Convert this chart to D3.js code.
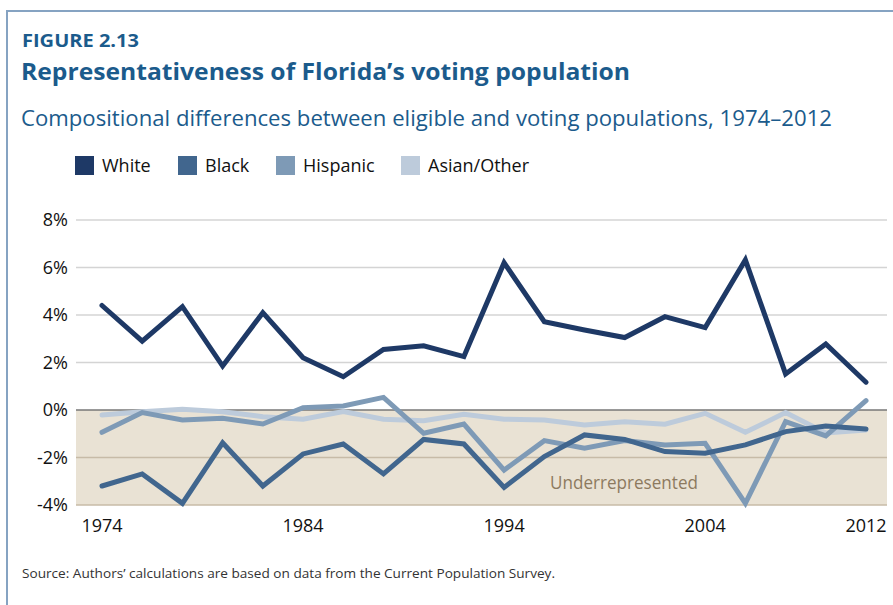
<!DOCTYPE html>
<html>
<head>
<meta charset="utf-8">
<title>Representativeness of Florida's voting population</title>
<script src="https://d3js.org/d3.v7.min.js"></script>
<style>
  body { margin: 0; background: #fff; }
  svg { display: block; font-family: "Open Sans", "Noto Sans", sans-serif; }
</style>
</head>
<body>
<svg width="893" height="605"></svg>
<script>
var years = d3.range(1974, 2013, 2);
var white    = [4.4, 2.9, 4.35, 1.85, 4.1, 2.2, 1.4, 2.55, 2.7, 2.25, 6.2, 3.72, 3.37, 3.05, 3.93, 3.47, 6.32, 1.52, 2.78, 1.17];
var black    = [-3.2, -2.69, -3.93, -1.38, -3.2, -1.85, -1.43, -2.69, -1.24, -1.43, -3.26, -1.96, -1.05, -1.24, -1.75, -1.82, -1.47, -0.91, -0.67, -0.8];
var hispanic = [-0.94, -0.11, -0.42, -0.35, -0.59, 0.1, 0.17, 0.53, -0.98, -0.59, -2.53, -1.29, -1.61, -1.29, -1.47, -1.4, -3.93, -0.49, -1.09, 0.39];
var asian    = [-0.21, -0.07, 0.03, -0.07, -0.28, -0.39, -0.07, -0.39, -0.45, -0.18, -0.39, -0.42, -0.63, -0.49, -0.6, -0.14, -0.94, -0.11, -0.97, -0.84];
var yTicks = [-4, -2, 0, 2, 4, 6, 8];
var xTicks = [1974, 1984, 1994, 2004, 2012];

var series = [
  {name: "White", values: white, color: "#1e3966"},
  {name: "Black", values: black, color: "#41668e"},
  {name: "Hispanic", values: hispanic, color: "#7e9ab6"},
  {name: "Asian/Other", values: asian, color: "#bdcbdb"}
];

var svg = d3.select("svg");
var blue = "#1b5b8c";

// frame
svg.append("path")
   .attr("d", "M7,605V11H893")
   .attr("fill", "none")
   .attr("stroke", "#86a3c2")
   .attr("stroke-width", 2);

svg.append("text").text("FIGURE 2.13")
   .attr("x", 22).attr("y", 47)
   .attr("fill", blue).attr("font-weight", 700).style("font-size", "18px")
   .attr("textLength", 117).attr("lengthAdjust", "spacingAndGlyphs");
svg.append("text").text("Representativeness of Florida\u2019s voting population")
   .attr("x", 21).attr("y", 80)
   .attr("fill", blue).attr("font-weight", 700).style("font-size", "24px")
   .attr("textLength", 609).attr("lengthAdjust", "spacingAndGlyphs");
svg.append("text").text("Compositional differences between eligible and voting populations, 1974\u20132012")
   .attr("x", 21).attr("y", 126)
   .attr("fill", blue).style("font-size", "21px")
   .attr("textLength", 811).attr("lengthAdjust", "spacingAndGlyphs");

// legend
var legX = [75, 178, 276, 401];
var leg = svg.append("g").selectAll("g")
   .data(series).enter().append("g")
   .attr("transform", (d, i) => `translate(${legX[i]},156)`);
leg.append("rect").attr("width", 19).attr("height", 19).attr("fill", d => d.color);
leg.append("text").text(d => d.name)
   .attr("x", 27).attr("y", 16)
   .attr("fill", "#111").style("font-size", "18px");

// scales
var left = 76, right = 887;
var x = d3.scaleLinear().domain([1974, 2012]).range([102, 866]);
var y = d3.scaleLinear().domain([-4, 8]).range([505, 220]);

var g = svg.append("g");

// underrepresented band
g.append("rect")
 .attr("x", left).attr("width", right - left)
 .attr("y", y(0)).attr("height", y(-4) - y(0))
 .attr("fill", "#e9e2d4");

// gridlines
g.append("g").selectAll("line")
 .data(yTicks).enter().append("line")
 .attr("x1", left).attr("x2", right)
 .attr("y1", d => y(d)).attr("y2", d => y(d))
 .attr("stroke", d => d === 0 ? "#777" : (d < 0 ? "#c7bba7" : "#d4d4d4"))
 .attr("stroke-width", 1.5);

// y labels
g.append("g").selectAll("text")
 .data(yTicks).enter().append("text")
 .text(d => d + "%")
 .attr("x", 68).attr("y", d => y(d)).attr("dy", "0.36em")
 .attr("text-anchor", "end")
 .attr("fill", "#111").style("font-size", "18px");

// x labels
g.append("g").selectAll("text")
 .data(xTicks).enter().append("text")
 .text(d => d)
 .attr("x", d => x(d)).attr("y", 532)
 .attr("text-anchor", "middle")
 .attr("fill", "#111").style("font-size", "18px");

g.append("text").text("Underrepresented")
 .attr("x", 550).attr("y", 489)
 .attr("fill", "#8d7a5f").style("font-size", "19px")
 .attr("textLength", 148).attr("lengthAdjust", "spacingAndGlyphs");

// lines, Asian/Other drawn first, White on top
var line = d3.line()
   .x((d, i) => x(years[i]))
   .y(d => y(d));

g.append("g").selectAll("path")
 .data(series.slice().reverse()).enter().append("path")
 .attr("d", d => line(d.values))
 .attr("fill", "none")
 .attr("stroke", d => d.color)
 .attr("stroke-width", 5)
 .attr("stroke-linejoin", "miter")
 .attr("stroke-linecap", "round");

svg.append("text").text("Source: Authors\u2019 calculations are based on data from the Current Population Survey.")
   .attr("x", 22).attr("y", 578)
   .attr("fill", "#333").style("font-size", "13px")
   .attr("textLength", 533).attr("lengthAdjust", "spacingAndGlyphs");
</script>
</body>
</html>
